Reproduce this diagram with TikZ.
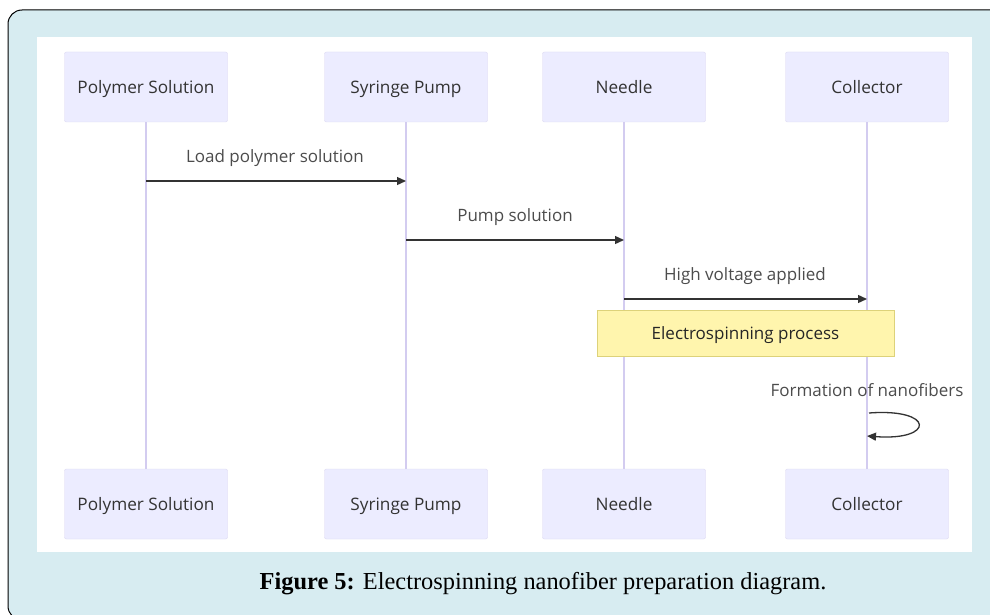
\documentclass[tikz,border=0pt]{standalone}
\usepackage{fontspec}
\setmainfont{Open Sans}
\newfontfamily\capfont{Liberation Serif}
\usetikzlibrary{arrows.meta}
\definecolor{framebg}{HTML}{D7ECF1}
\definecolor{actfill}{HTML}{ECECFF}
\definecolor{actdraw}{HTML}{DCD8F2}
\definecolor{lifeline}{HTML}{D3CCF0}
\definecolor{notefill}{HTML}{FFF5AD}
\definecolor{notedraw}{HTML}{DDD27A}
\definecolor{msgcol}{HTML}{333333}
\tikzset{
  actor/.style={draw=actdraw, fill=actfill, rounded corners=2pt, minimum width=163pt, minimum height=70pt, inner sep=0pt, font=\fontsize{17.2}{20}\selectfont, text=black!80, text height=17pt, text depth=4pt},
  life/.style={draw=lifeline, line width=1.2pt},
  msg/.style={draw=msgcol, line width=1.3pt, -{Triangle[length=9pt,width=8pt]}},
  msglabel/.style={font=\fontsize{17}{20}\selectfont, text=black!70, text height=17pt, text depth=4pt},
  notebox/.style={draw=notedraw, fill=notefill, minimum width=297pt, minimum height=46pt, inner sep=0pt, font=\fontsize{17}{20}\selectfont, text=black!85, text height=17pt, text depth=4pt}
}
\begin{document}
\begin{tikzpicture}[x=1pt,y=-1pt]
\useasboundingbox (0,0) rectangle (990,615);
% frame
\draw[fill=framebg, draw=black, line width=1pt, rounded corners=14pt] (8,10) rectangle (1040,620);
\fill[white] (37,37) rectangle (972,552);
% actors top
\node[actor] (ps) at (146,87) {Polymer Solution};
\node[actor] (sp) at (406,87) {Syringe Pump};
\node[actor] (nd) at (624,87) {Needle};
\node[actor] (co) at (867,87) {Collector};
% actors bottom
\node[actor] (psb) at (146,504) {Polymer Solution};
\node[actor] (spb) at (406,504) {Syringe Pump};
\node[actor] (ndb) at (624,504) {Needle};
\node[actor] (cob) at (867,504) {Collector};
% lifelines
\draw[life] (ps.south) -- (psb.north);
\draw[life] (sp.south) -- (spb.north);
\draw[life] (nd.south) -- (ndb.north);
\draw[life] (co.south) -- (cob.north);
% messages
\coordinate (m1a) at (146,181); \coordinate (m1b) at (406,181);
\draw[msg] (m1a) -- (m1b);
\node[msglabel] (l1) at (275,156) {Load polymer solution};
\coordinate (m2a) at (406,240); \coordinate (m2b) at (624,240);
\draw[msg] (m2a) -- (m2b);
\node[msglabel] (l2) at (515,215) {Pump solution};
\coordinate (m3a) at (624,299); \coordinate (m3b) at (867,299);
\draw[msg] (m3a) -- (m3b);
\node[msglabel] (l3) at (745,274) {High voltage applied};
% note
\node[notebox] (note) at (745.5,333) {Electrospinning process};
% self loop
\node[msglabel] (l4) at (867,390) {Formation of nanofibers};
\coordinate (s1) at (869,413); \coordinate (s2) at (867,436);
\draw[msg] (s1) .. controls (935,408) and (935,441) .. (s2);
% caption
\node (cap) at (543,584) {\capfont\fontsize{24.4}{28}\selectfont\textbf{Figure 5:} Electrospinning nanofiber preparation diagram.};
\end{tikzpicture}
\end{document}
